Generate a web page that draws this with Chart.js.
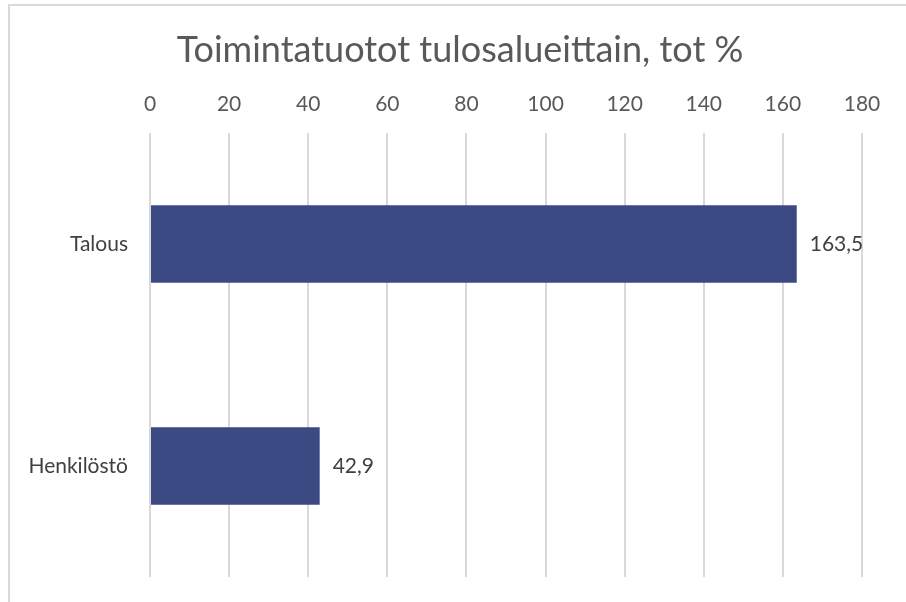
<!DOCTYPE html>
<html>
<head>
    <meta charset="utf-8">
    <title>Toimintatuotot tulosalueittain</title>
    <script src="https://cdn.jsdelivr.net/npm/chart.js"></script>
    <style>
        body { margin: 0; background: #fff; }
        .wrap { position: relative; width: 906px; height: 602px; overflow: hidden; }
        .frame { position: absolute; left: 8px; top: 4px; width: 920px; height: 620px; border-top: 2px solid #d9d9d9; border-left: 2px solid #d9d9d9; }
        canvas { position: absolute; left: 0; top: 0; }
    </style>
</head>
<body>
    <div class="wrap">
        <div class="frame"></div>
        <canvas id="chart" width="906" height="602"></canvas>
    </div>

    <script>
        const categories = ['Talous', 'Henkilöstö'];
        const values = [163.5, 42.9];
        const titleText = 'Toimintatuotot tulosalueittain, tot %';

        // Title drawn by hand so it can sit off-centre like the original
        const titleDraw = {
            id: 'titleDraw',
            afterDraw(chart) {
                const ctx = chart.ctx;
                ctx.save();
                ctx.font = '36px Lato';
                ctx.fillStyle = '#595959';
                ctx.textAlign = 'center';
                ctx.textBaseline = 'alphabetic';
                ctx.fillText(titleText, 460, 62);
                ctx.restore();
            }
        };

        // Value labels to the right of each bar, with a decimal comma
        const valueLabels = {
            id: 'valueLabels',
            afterDatasetsDraw(chart) {
                const ctx = chart.ctx;
                const meta = chart.getDatasetMeta(0);
                ctx.save();
                ctx.font = '21px Lato';
                ctx.fillStyle = '#404040';
                ctx.textAlign = 'left';
                ctx.textBaseline = 'middle';
                meta.data.forEach((bar, i) => {
                    const txt = values[i].toFixed(1).replace('.', ',');
                    ctx.fillText(txt, bar.x + 13, bar.y);
                });
                ctx.restore();
            }
        };

        new Chart(document.getElementById('chart'), {
            type: 'bar',
            data: {
                labels: categories,
                datasets: [{
                    data: values,
                    backgroundColor: '#3c4a84',
                    barPercentage: 0.35,
                    categoryPercentage: 1
                }]
            },
            options: {
                indexAxis: 'y',
                responsive: false,
                animation: false,
                layout: { padding: { top: 0, right: 44, bottom: 25, left: 0 } },
                plugins: {
                    legend: { display: false },
                    tooltip: { enabled: false },
                    title: { display: false }
                },
                scales: {
                    x: {
                        position: 'top',
                        min: 0,
                        max: 180,
                        ticks: {
                            stepSize: 20,
                            color: '#595959',
                            font: { family: 'Lato', size: 21 },
                            padding: 16
                        },
                        grid: { color: '#d9d9d9', lineWidth: 2, drawTicks: false },
                        border: { display: false },
                        afterFit(scale) { scale.height = 133; }
                    },
                    y: {
                        ticks: {
                            color: '#404040',
                            font: { family: 'Lato', size: 21 },
                            padding: 22
                        },
                        grid: { display: false, drawTicks: false },
                        border: { display: false },
                        afterFit(scale) {
                            scale.width = 150;
                            scale.paddingTop = 0;
                            scale.paddingBottom = 0;
                        }
                    }
                }
            },
            plugins: [valueLabels, titleDraw]
        });
    </script>
</body>
</html>
